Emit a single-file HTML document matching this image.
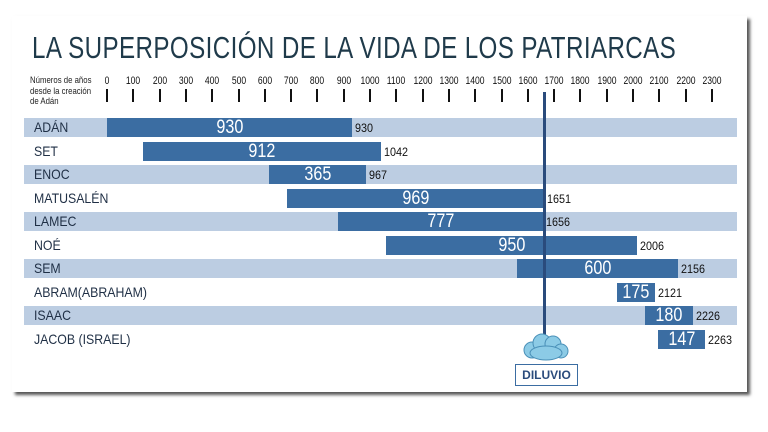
<!DOCTYPE html><html><head><meta charset="utf-8"><style>
body{margin:0;width:768px;height:432px;background:#fff;position:relative;overflow:hidden;font-family:"Liberation Sans",sans-serif}
.card{position:absolute;left:12px;top:16px;width:735px;height:376px;background:#fff;box-shadow:3px 3px 3px #555}
.a{position:absolute;white-space:nowrap}
.title{left:32px;top:30px;font-size:31px;color:#1f3a4a;transform:scaleX(0.78);transform-origin:left top;letter-spacing:0.5px}
.tk{top:75px;font-size:11px;width:30px;text-align:center;transform:scaleX(0.78);color:#111}
.tick{position:absolute;top:89px;width:2px;height:13px;background:#111}
.row{position:absolute;left:24px;width:713px;height:19px}
.sh{background:#bccde2}
.nm{position:absolute;left:34px;font-size:14px;color:#1f2f45;transform:scaleX(0.88);transform-origin:left}
.bar{position:absolute;height:19px;background:#3b6da2;color:#fff;font-size:19px;line-height:20px;text-align:center}
.bar span{display:inline-block;transform:scaleX(0.85)}
.v{position:absolute;font-size:12px;color:#111;transform:scaleX(0.9);transform-origin:left}
</style></head><body>
<div class="card"></div>
<div class="a title">LA SUPERPOSICIÓN DE LA VIDA DE LOS PATRIARCAS</div>
<div class="a" style="left:30px;top:76px;font-size:9.5px;line-height:10.5px;color:#222;transform:scaleX(0.82);transform-origin:left">Números de años<br>desde la creación<br>de Adán</div>
<div id="ticks"></div>
<div id="rows"></div>
<div class="a" style="left:543px;top:92px;width:3px;height:250px;background:#2a4b7c"></div>
<svg class="a" style="left:520px;top:332px" width="52" height="32"><g fill="#8ccbe6" stroke="#4a90b8" stroke-width="1"><circle cx="12" cy="18" r="8"/><circle cx="22" cy="11" r="9"/><circle cx="33" cy="12" r="8"/><circle cx="41" cy="19" r="7"/><ellipse cx="26" cy="21" rx="16" ry="7"/></g></svg>
<div class="a" style="left:515px;top:364px;width:61px;height:20px;border:1.5px solid #3b6da2;background:#fff;color:#2a4b7c;font-size:12px;line-height:20px;text-align:center;font-weight:bold">DILUVIO</div>
<script>
var t='';for(var i=0;i<=23;i++){var x=107+i*26.3;t+='<div class="tick" style="left:'+(x-1)+'px"></div><div class="a tk" style="left:'+(x-15)+'px">'+(i*100)+'</div>';}
document.getElementById('ticks').innerHTML=t;
var R=[["ADÁN",107,352,930,930],["SET",143,381,912,1042],["ENOC",269,366,365,967],["MATUSALÉN",287,544,969,1651],["LAMEC",338,543,777,1656],["NOÉ",386,637,950,2006],["SEM",517,678,600,2156],["ABRAM(ABRAHAM)",617,655,175,2121],["ISAAC",645,693,180,2226],["JACOB (ISRAEL)",658,705,147,2263]];
var h='';R.forEach(function(r,i){var y=118+i*23.5;if(i%2==0)h+='<div class="row sh" style="top:'+y+'px"></div>';
h+='<div class="nm" style="top:'+(y+1)+'px">'+r[0]+'</div><div class="bar" style="top:'+y+'px;left:'+r[1]+'px;width:'+(r[2]-r[1])+'px"><span>'+r[3]+'</span></div><div class="v" style="top:'+(y+3)+'px;left:'+(r[2]+3)+'px">'+r[4]+'</div>';});
document.getElementById('rows').innerHTML=h;
</script>
</body></html>
